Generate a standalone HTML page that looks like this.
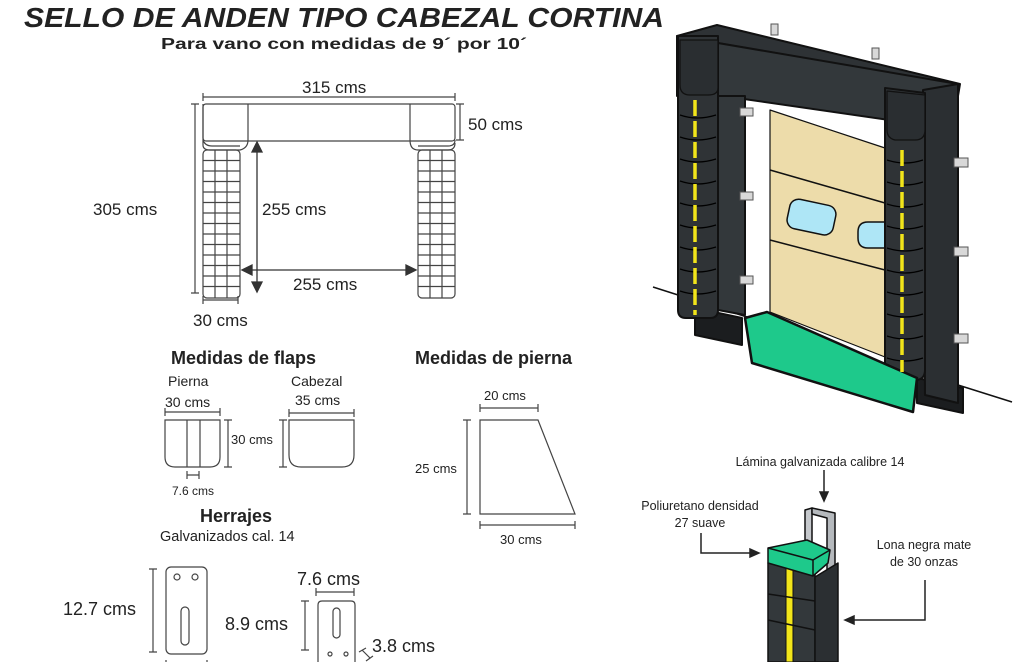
<!DOCTYPE html>
<html><head><meta charset="utf-8"><style>
html,body{margin:0;padding:0;background:#fff}
svg{display:block}
text{font-family:"Liberation Sans",Arial,sans-serif;fill:#222}
</style></head><body>
<svg width="1024" height="662" viewBox="0 0 1024 662" xmlns="http://www.w3.org/2000/svg">
<text x="24" y="27" font-size="28" font-weight="bold" font-style="italic" fill="#111" textLength="640" lengthAdjust="spacingAndGlyphs">SELLO DE ANDEN TIPO CABEZAL CORTINA</text>
<text x="161" y="49" font-size="16" font-weight="bold" textLength="366" lengthAdjust="spacingAndGlyphs">Para vano con medidas de 9´ por 10´</text>

<!-- top diagram -->
<g stroke="#444" fill="none" stroke-width="1.2">
<path d="M203 97H455M203 93V101M455 93V101"/>
<path d="M195 104V293M191 104H199M191 293H199"/>
<path d="M460 104V140M456 104H464M456 140H464"/>
<path d="M203 300H238M203 296V304M238 296V304"/>
<rect x="203" y="104" width="252" height="37" rx="3"/>
<path d="M203 104V145Q203 150 210 150H240Q248 148 248 140V104M410 104V140Q410 150 418 150H448Q455 150 455 143"/>
<path d="M203 140Q205 146 212 146H240M418 146H448Q455 146 455 140"/>
<rect x="203" y="150" width="37" height="148" rx="4"/>
<rect x="418" y="150" width="37" height="148" rx="4"/>
<path d="M215 150V298M227 150V298M430 150V298M442 150V298"/>
<path d="M203 160.5H240M203 171H240M203 181.5H240M203 192H240M203 202.5H240M203 213H240M203 223.5H240M203 234H240M203 244.5H240M203 255H240M203 265.5H240M203 276H240M203 286.5H240"/>
<path d="M418 160.5H455M418 171H455M418 181.5H455M418 192H455M418 202.5H455M418 213H455M418 223.5H455M418 234H455M418 244.5H455M418 255H455M418 265.5H455M418 276H455M418 286.5H455"/>
</g>
<g stroke="#333" stroke-width="1.3" fill="#333">
<path d="M257 148V284" fill="none"/><path d="M257 142L252 152H262Z"/><path d="M257 292L252 282H262Z"/>
<path d="M248 270H410" fill="none"/><path d="M242 270L252 265V275Z"/><path d="M416 270L406 265V275Z"/>
</g>
<text x="302" y="93" font-size="17">315 cms</text>
<text x="468" y="130" font-size="17">50 cms</text>
<text x="93" y="215" font-size="17">305 cms</text>
<text x="262" y="215" font-size="17">255 cms</text>
<text x="293" y="290" font-size="17">255 cms</text>
<text x="193" y="326" font-size="17">30 cms</text>

<!-- flaps -->
<text x="171" y="364" font-size="18" font-weight="bold">Medidas de flaps</text>
<text x="168" y="386" font-size="14">Pierna</text>
<text x="165" y="407" font-size="14">30 cms</text>
<text x="291" y="386" font-size="14">Cabezal</text>
<text x="295" y="405" font-size="14">35 cms</text>
<g stroke="#444" fill="none" stroke-width="1.2">
<path d="M165 412H220M165 408V416M220 408V416"/>
<path d="M165 420H220V457Q220 467 210 467H175Q165 467 165 457Z"/>
<path d="M187 420V467M200 420V467"/>
<path d="M228 420V467M224 420H232M224 467H232"/>
<path d="M187 475H199M187 471V479M199 471V479"/>
<path d="M289 413H354M289 409V417M354 409V417"/>
<path d="M289 420H354V455Q354 467 342 467H301Q289 467 289 455Z"/>
<path d="M283 420V467M279 420H287M279 467H287"/>
</g>
<text x="231" y="444" font-size="13">30 cms</text>
<text x="172" y="495" font-size="12">7.6 cms</text>

<!-- pierna -->
<text x="415" y="364" font-size="18" font-weight="bold">Medidas de pierna</text>
<text x="484" y="400" font-size="13">20 cms</text>
<text x="415" y="473" font-size="13">25 cms</text>
<text x="500" y="544" font-size="13">30 cms</text>
<g stroke="#444" fill="none" stroke-width="1.2">
<path d="M480 408H538M480 404V412M538 404V412"/>
<path d="M480 420H538L575 514H480Z"/>
<path d="M467 420V514M463 420H471M463 514H471"/>
<path d="M480 525H575M480 521V529M575 521V529"/>
</g>

<!-- herrajes -->
<text x="200" y="522" font-size="18" font-weight="bold">Herrajes</text>
<text x="160" y="541" font-size="14.5">Galvanizados cal. 14</text>
<g stroke="#444" fill="none" stroke-width="1.2">
<path d="M153 569V652M149 569H157M149 652H157"/>
<rect x="166" y="567" width="41" height="87" rx="5"/>
<circle cx="177" cy="577" r="3"/><circle cx="195" cy="577" r="3"/>
<rect x="181" y="607" width="8" height="38" rx="4"/>
<path d="M166 660V666M207 660V666"/>
<path d="M316 592H354M316 588V596M354 588V596"/>
<path d="M318 662V605Q318 601 322 601H351Q355 601 355 605V662"/>
<rect x="333" y="608" width="7" height="30" rx="3.5"/>
<circle cx="330" cy="654" r="2"/><circle cx="346" cy="654" r="2"/>
<path d="M305 601V650M301 601H309M301 650H309"/>
<path d="M362 650L370 658M359 652L366 648M366 661L373 656"/>
</g>
<text x="63" y="615" font-size="18">12.7 cms</text>
<text x="297" y="585" font-size="18">7.6 cms</text>
<text x="225" y="630" font-size="18">8.9 cms</text>
<text x="372" y="652" font-size="18">3.8 cms</text>

<!-- big illustration -->
<g stroke="#111" stroke-width="2" stroke-linejoin="round">
<path d="M653 287L747 317" fill="none" stroke-width="1.5"/>
<path d="M958 385L1012 402" fill="none" stroke-width="1.5"/>
<path d="M770 110L885 148V357L770 312Z" fill="#eddcaa" stroke-width="1.2"/>
<path d="M770 170L885 203M770 240L885 270" stroke-width="1.5" fill="none"/>
<rect x="788" y="202" width="47" height="30" rx="9" fill="#aee6f6" stroke-width="1.5" transform="rotate(12 811 217)"/>
<path d="M885 222H868Q858 222 858 232V238Q858 248 868 248H885Z" fill="#aee6f6" stroke-width="1.5"/>
<path d="M695 308L742 318V345L695 335Z" fill="#1b1d1f"/>
<path d="M917 378L963 388V413L917 403Z" fill="#1b1d1f"/>
<path d="M677 36L717 25L960 84L958 96L930 80Z" fill="#2e3235"/>
<path d="M677 36L958 84V130L723 96H677Z" fill="#33383b"/>
<path d="M923 90L958 84V403L925 395Z" fill="#2b2f32"/>
<path d="M718 96H745V315L718 310Z" fill="#33383b"/>
<path d="M678 36H718V310Q718 318 710 318H686Q678 318 678 310Z" fill="#2f3336"/>
<path d="M680 40H718V88Q718 95 708 95H690Q680 95 680 85Z" fill="#2a2e31" stroke-width="1.3"/>
<path d="M885 88L925 93V370Q925 380 915 380H893Q885 378 885 370Z" fill="#2f3336"/>
<path d="M887 91L925 95V130Q925 140 915 140H895Q887 138 887 130Z" fill="#2a2e31" stroke-width="1.3"/>
<path d="M745 318L767 312L917 378L913 412L752 363Z" fill="#1ec98b" stroke-width="2.5"/>
</g>
<g stroke="#000" stroke-width="1.2" fill="none">
<path d="M680 115Q697 121 716 115M680 137Q697 143 716 137M680 159Q697 165 716 159M680 181Q697 187 716 181M680 203Q697 209 716 203M680 225Q697 231 716 225M680 247Q697 253 716 247M680 269Q697 275 716 269M680 291Q697 297 716 291"/>
<path d="M887 160Q905 166 923 160M887 182Q905 188 923 182M887 204Q905 210 923 204M887 226Q905 232 923 226M887 248Q905 254 923 248M887 270Q905 276 923 270M887 292Q905 298 923 292M887 314Q905 320 923 314M887 336Q905 342 923 336M887 358Q905 364 923 358"/>
</g>
<path d="M695 100V315" stroke="#f2e51a" stroke-width="3.5" stroke-dasharray="16 5"/>
<path d="M902 150V372" stroke="#f2e51a" stroke-width="3.5" stroke-dasharray="16 5"/>
<g fill="#d8d8d8" stroke="#555" stroke-width="1">
<rect x="771" y="24" width="7" height="11"/><rect x="872" y="48" width="7" height="11"/>
<rect x="740" y="108" width="13" height="8"/><rect x="740" y="192" width="13" height="8"/>
<rect x="740" y="276" width="13" height="8"/>
<rect x="954" y="158" width="14" height="9"/><rect x="954" y="247" width="14" height="9"/>
<rect x="954" y="334" width="14" height="9"/>
</g>

<!-- detail -->
<text x="820" y="466" font-size="12.5" text-anchor="middle">Lámina galvanizada calibre 14</text>
<text x="700" y="510" font-size="12.5" text-anchor="middle">Poliuretano densidad</text>
<text x="700" y="527" font-size="12.5" text-anchor="middle">27 suave</text>
<text x="924" y="549" font-size="12.5" text-anchor="middle">Lona negra mate</text>
<text x="924" y="566" font-size="12.5" text-anchor="middle">de 30 onzas</text>
<g stroke="#222" stroke-width="1.5" fill="#222">
<path d="M824 470V495" fill="none"/><path d="M824 501L820 492H828Z"/>
<path d="M701 533V553H752" fill="none"/><path d="M759 553L750 549V557Z"/>
<path d="M925 580V620H852" fill="none"/><path d="M845 620L854 616V624Z"/>
</g>
<g stroke="#111" stroke-width="1.5" stroke-linejoin="round">
<path d="M805 510L812 508V560L805 565Z" fill="#c5c8cc"/>
<path d="M812 508L835 513V568L827 570V518L812 514Z" fill="#b5b9bd"/>
<path d="M768 563H815V662H768Z" fill="#33383b"/>
<path d="M815 577L838 563V662H815Z" fill="#2b2f32"/>
<path d="M786 563H793V662H786Z" fill="#f2e51a" stroke-width="1"/>
<path d="M768 594L815 601M768 620L815 630" fill="none"/>
<path d="M768 548L807 540L830 550L828 563L813 576L768 563Z" fill="#1ec98b"/>
<path d="M768 548L813 560L830 550M813 560V576" fill="none"/>
</g>
</svg>
</body></html>
